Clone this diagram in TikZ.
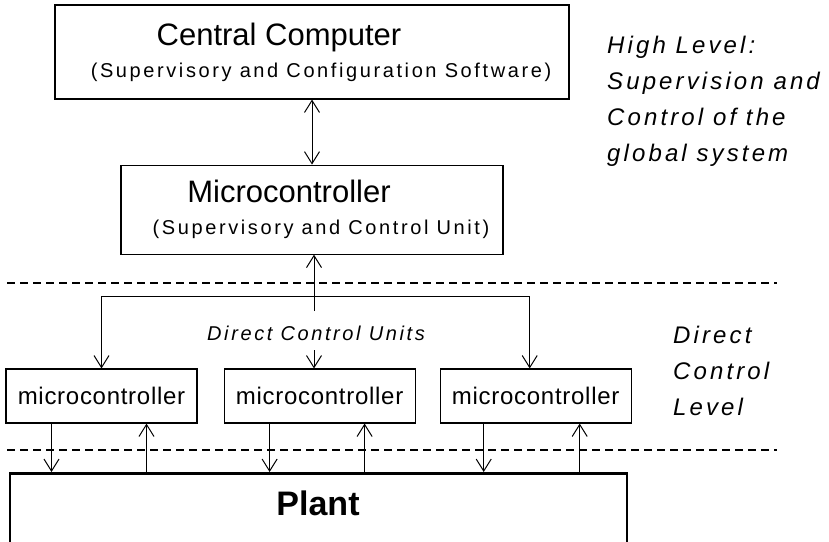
\documentclass[tikz,border=0pt]{standalone}
\usepackage{fontspec}
\setmainfont{Liberation Sans}
\newfontfamily\spacedfont{Liberation Sans}[LetterSpace=13]
\newfontfamily\unitfont{Liberation Sans}[LetterSpace=3]
\newfontfamily\notefont{Liberation Sans}[LetterSpace=13]
\usetikzlibrary{arrows.meta,positioning}

\begin{document}
\begin{tikzpicture}[
  x=1pt, y=-1pt,
  box/.style={rectangle, draw, line width=1.1pt, align=center, inner sep=0pt, font=\fontsize{20}{24}\selectfont},
  unitbox/.style={rectangle, draw, line width=1.1pt, inner sep=0pt, minimum width=191pt, minimum height=54pt, font=\unitfont\fontsize{24}{28}\selectfont},
  arrow/.style={-{Straight Barb[length=12pt,width=15pt]}, line width=1pt},
  twoway/.style={{Straight Barb[length=12pt,width=15pt]}-{Straight Barb[length=12pt,width=15pt]}, line width=1pt},
  levelline/.style={dash pattern=on 8pt off 5pt, line width=1.1pt},
  note/.style={align=left, inner sep=0pt, anchor=north west, font=\notefont\itshape\fontsize{24}{36}\selectfont}
]
\useasboundingbox (0,0) rectangle (829,541);

% upper level
\node[box, minimum width=514pt, minimum height=94pt] (central) at (312,52)
  {{\fontsize{31}{34}\selectfont Central Computer\hspace*{66pt}}\\[8pt]{\spacedfont\fontsize{20}{24}\selectfont\hspace*{18pt}(Supervisory and Configuration Software)}};
\node[box, minimum width=382pt, minimum height=89pt, below=65pt of central] (micro)
  {{\fontsize{31}{34}\selectfont Microcontroller\hspace*{46pt}}\\[8pt]{\spacedfont\fontsize{20}{24}\selectfont\hspace*{18pt}(Supervisory and Control Unit)}};
\node[note] (highlevel) at (607,36) {High Level:\\Supervision and\\Control of the\\global system};

% level borders
\coordinate (upleft) at (7,283);
\coordinate (upright) at (777,283);
\coordinate (lowleft) at (7,450);
\coordinate (lowright) at (777,450);
\draw[levelline] (upleft) -- (upright);
\draw[levelline] (lowleft) -- (lowright);

% direct control units
\node[unitbox] (dcu1) at (101.5,396) {microcontroller};
\node[unitbox, right=26pt of dcu1] (dcu2) {microcontroller};
\node[unitbox, right=24pt of dcu2] (dcu3) {microcontroller};
\node[font=\spacedfont\itshape\fontsize{20}{24}\selectfont, inner sep=0pt] (unitsname) at (316,333) {Direct Control Units};
\node[note] (directlevel) at (673,326) {Direct\\Control\\Level};

% plant
\node[draw, line width=2.6pt, minimum width=617pt, minimum height=110pt, anchor=north] (plant) at (318.5,472) {};
\node[font=\bfseries\fontsize{34}{40}\selectfont, inner sep=0pt] (plantname) at (318,503) {Plant};

% bus
\coordinate (busjoint) at (314,296);
\coordinate (busend) at (314,311);
\coordinate (unitstop) at (314,350);
\draw[twoway] (central) -- (micro);
\draw[arrow] (busend) -- (busend |- micro.south);
\draw[arrow] (busjoint) -| (dcu1.north);
\draw[arrow] (busjoint) -| ([xshift=-6pt]dcu3.north);
\draw[arrow] (unitstop) -- (unitstop |- dcu2.north);

% units and plant
\draw[arrow] ([xshift=-50pt]dcu1.south) -- ([xshift=-50pt]dcu1.south |- plant.north);
\draw[arrow] ([xshift=45pt]dcu1.south |- plant.north) -- ([xshift=45pt]dcu1.south);
\draw[arrow] ([xshift=-50pt]dcu2.south) -- ([xshift=-50pt]dcu2.south |- plant.north);
\draw[arrow] ([xshift=45pt]dcu2.south |- plant.north) -- ([xshift=45pt]dcu2.south);
\draw[arrow] ([xshift=-52pt]dcu3.south) -- ([xshift=-52pt]dcu3.south |- plant.north);
\draw[arrow] ([xshift=44pt]dcu3.south |- plant.north) -- ([xshift=44pt]dcu3.south);
\end{tikzpicture}
\end{document}
